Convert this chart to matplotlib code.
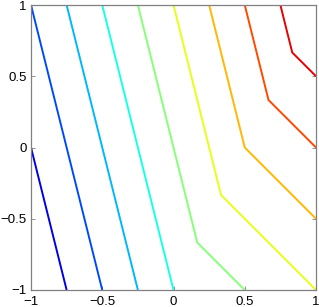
import numpy as np
import matplotlib
matplotlib.use("Agg")
import matplotlib.pyplot as plt
from matplotlib.colors import Normalize, ListedColormap

# Surface: minimum of two planes z = a*x + b*y + c
plane_a = [4.0, 2.0]
plane_b = [1.0, 2.0]
plane_c = [0.0, 1.0]
levels = [-5, -4, -3, -2, -1, 0, 1, 2, 3, 4]
tick_values = [-1, -0.5, 0, 0.5, 1]
tick_labels = ["\u22121", "\u22120.5", "0", "0.5", "1"]

x = np.linspace(-1, 1, 121)
y = np.linspace(-1, 1, 121)
X, Y = np.meshgrid(x, y)
Z = np.minimum(plane_a[0] * X + plane_b[0] * Y + plane_c[0],
               plane_a[1] * X + plane_b[1] * Y + plane_c[1])

# MATLAB-style jet colormap
t = (np.arange(64) + 0.5) / 64
r = np.clip(1.5 - np.abs(4 * t - 3), 0, 1)
g = np.clip(1.5 - np.abs(4 * t - 2), 0, 1)
b = np.clip(1.5 - np.abs(4 * t - 1), 0, 1)
mjet = ListedColormap(np.column_stack([r, g, b]))

plt.rcParams['font.family'] = ['Liberation Sans', 'DejaVu Sans']
fig = plt.figure(figsize=(3.19, 3.07), dpi=100)
ax = fig.add_axes([31 / 319, 17 / 307, 285 / 319, 285 / 307])
ax.contour(X, Y, Z, levels=levels, cmap=mjet, norm=Normalize(-5, 5), linewidths=1.4)
ax.set_xlim(-1, 1)
ax.set_ylim(-1, 1)
ax.set_xticks(tick_values)
ax.set_xticklabels(tick_labels)
ax.set_yticks(tick_values)
ax.set_yticklabels(tick_labels)
ax.tick_params(direction='in', length=3, width=0.6, color='#808080', labelsize=9.5,
               top=True, right=True)
ax.tick_params(axis='x', pad=4)
ax.tick_params(axis='y', pad=3)
for s in ax.spines.values():
    s.set_color('#808080')
    s.set_linewidth(0.9)
fig.savefig("out.png", dpi=100)
